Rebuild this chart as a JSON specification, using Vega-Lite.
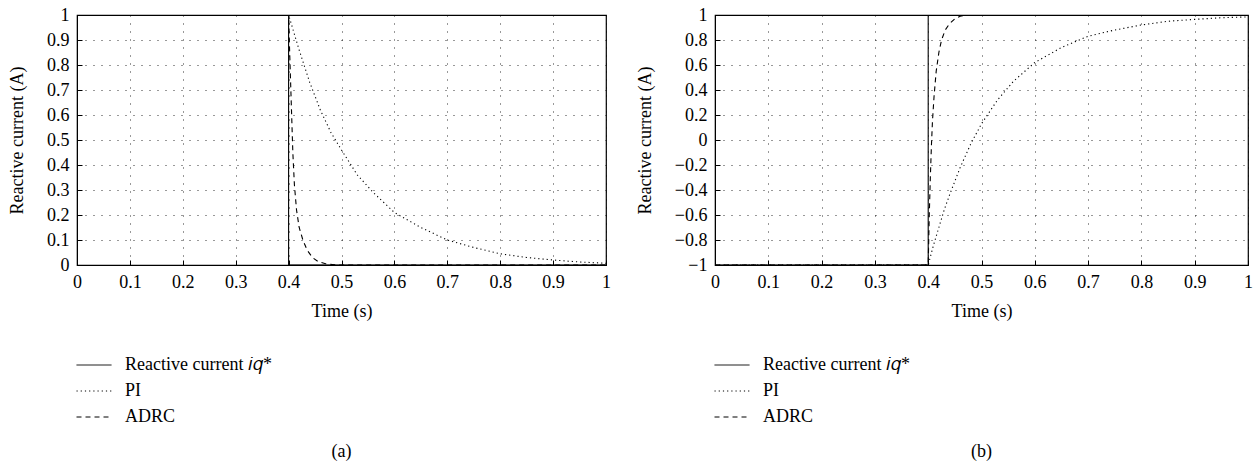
{
  "$schema": "https://vega.github.io/schema/vega-lite/v6.json",
  "padding": {"left": 7, "top": 5, "right": 5, "bottom": 5},
  "spacing": 23,
  "config": {
    "font": "Liberation Serif",
    "view": {"stroke": "#000", "strokeWidth": 1.2},
    "axis": {
      "labelFont": "Liberation Serif", "labelFontSize": 18, "labelColor": "#000",
      "titleFont": "Liberation Serif", "titleFontSize": 18, "titleFontWeight": "normal", "titleColor": "#000",
      "domainColor": "#000", "tickColor": "#000", "tickSize": -5, "labelPadding": 13,
      "gridColor": "#000", "gridDash": [1, 7], "gridOpacity": 0.8, "gridWidth": 1,
      "labelFlush": false
    },
    "legend": {
      "labelFont": "Liberation Serif", "labelFontSize": 18, "labelColor": "#000",
      "symbolType": "stroke", "symbolSize": 1225, "symbolStrokeColor": "#000", "symbolStrokeWidth": 1,
      "rowPadding": 2, "clipHeight": 24, "labelOffset": 13
    },
    "title": {"font": "Liberation Serif", "fontSize": 18, "fontWeight": "normal", "color": "#000"}
  },
  "resolve": {"scale": {"strokeDash": "independent"}, "legend": {"strokeDash": "independent"}},
  "datasets": {
    "a": [
      {"t": 0, "v": 1, "s": "Reactive current 𝑖𝑞*"},
      {"t": 0.4, "v": 1, "s": "Reactive current 𝑖𝑞*"},
      {"t": 0.4, "v": 0, "s": "Reactive current 𝑖𝑞*"},
      {"t": 1, "v": 0, "s": "Reactive current 𝑖𝑞*"},
      {"t": 0, "v": 1, "s": "PI"},
      {"t": 0.4, "v": 1, "s": "PI"},
      {"t": 0.42, "v": 0.86, "s": "PI"},
      {"t": 0.44, "v": 0.73, "s": "PI"},
      {"t": 0.46, "v": 0.62, "s": "PI"},
      {"t": 0.48, "v": 0.53, "s": "PI"},
      {"t": 0.5, "v": 0.46, "s": "PI"},
      {"t": 0.53, "v": 0.36, "s": "PI"},
      {"t": 0.56, "v": 0.29, "s": "PI"},
      {"t": 0.6, "v": 0.21, "s": "PI"},
      {"t": 0.65, "v": 0.15, "s": "PI"},
      {"t": 0.7, "v": 0.1, "s": "PI"},
      {"t": 0.75, "v": 0.07, "s": "PI"},
      {"t": 0.8, "v": 0.045, "s": "PI"},
      {"t": 0.85, "v": 0.03, "s": "PI"},
      {"t": 0.9, "v": 0.02, "s": "PI"},
      {"t": 0.95, "v": 0.012, "s": "PI"},
      {"t": 1, "v": 0.007, "s": "PI"},
      {"t": 0, "v": 1, "s": "ADRC"},
      {"t": 0.4, "v": 1, "s": "ADRC"},
      {"t": 0.402, "v": 0.85, "s": "ADRC"},
      {"t": 0.405, "v": 0.65, "s": "ADRC"},
      {"t": 0.408, "v": 0.45, "s": "ADRC"},
      {"t": 0.411, "v": 0.32, "s": "ADRC"},
      {"t": 0.415, "v": 0.22, "s": "ADRC"},
      {"t": 0.42, "v": 0.15, "s": "ADRC"},
      {"t": 0.427, "v": 0.1, "s": "ADRC"},
      {"t": 0.435, "v": 0.06, "s": "ADRC"},
      {"t": 0.445, "v": 0.03, "s": "ADRC"},
      {"t": 0.455, "v": 0.015, "s": "ADRC"},
      {"t": 0.47, "v": 0.005, "s": "ADRC"},
      {"t": 0.49, "v": 0, "s": "ADRC"},
      {"t": 1, "v": 0, "s": "ADRC"}
    ],
    "b": [
      {"t": 0, "v": -1, "s": "Reactive current 𝑖𝑞*"},
      {"t": 0.4, "v": -1, "s": "Reactive current 𝑖𝑞*"},
      {"t": 0.4, "v": 1, "s": "Reactive current 𝑖𝑞*"},
      {"t": 1, "v": 1, "s": "Reactive current 𝑖𝑞*"},
      {"t": 0, "v": -1, "s": "PI"},
      {"t": 0.4, "v": -1, "s": "PI"},
      {"t": 0.41, "v": -0.84, "s": "PI"},
      {"t": 0.42, "v": -0.7, "s": "PI"},
      {"t": 0.43, "v": -0.56, "s": "PI"},
      {"t": 0.44, "v": -0.44, "s": "PI"},
      {"t": 0.46, "v": -0.22, "s": "PI"},
      {"t": 0.48, "v": -0.03, "s": "PI"},
      {"t": 0.5, "v": 0.13, "s": "PI"},
      {"t": 0.53, "v": 0.32, "s": "PI"},
      {"t": 0.56, "v": 0.47, "s": "PI"},
      {"t": 0.6, "v": 0.62, "s": "PI"},
      {"t": 0.65, "v": 0.74, "s": "PI"},
      {"t": 0.7, "v": 0.83, "s": "PI"},
      {"t": 0.75, "v": 0.88, "s": "PI"},
      {"t": 0.8, "v": 0.92, "s": "PI"},
      {"t": 0.85, "v": 0.95, "s": "PI"},
      {"t": 0.9, "v": 0.965, "s": "PI"},
      {"t": 0.95, "v": 0.978, "s": "PI"},
      {"t": 1, "v": 0.985, "s": "PI"},
      {"t": 0, "v": -1, "s": "ADRC"},
      {"t": 0.4, "v": -1, "s": "ADRC"},
      {"t": 0.402, "v": -0.6, "s": "ADRC"},
      {"t": 0.404, "v": -0.3, "s": "ADRC"},
      {"t": 0.406, "v": -0.05, "s": "ADRC"},
      {"t": 0.408, "v": 0.15, "s": "ADRC"},
      {"t": 0.411, "v": 0.35, "s": "ADRC"},
      {"t": 0.415, "v": 0.55, "s": "ADRC"},
      {"t": 0.42, "v": 0.7, "s": "ADRC"},
      {"t": 0.425, "v": 0.8, "s": "ADRC"},
      {"t": 0.432, "v": 0.88, "s": "ADRC"},
      {"t": 0.44, "v": 0.93, "s": "ADRC"},
      {"t": 0.45, "v": 0.97, "s": "ADRC"},
      {"t": 0.46, "v": 0.99, "s": "ADRC"},
      {"t": 0.47, "v": 1, "s": "ADRC"},
      {"t": 1, "v": 1, "s": "ADRC"}
    ]
  },
  "hconcat": [
    {
      "width": 529, "height": 250,
      "data": {"name": "a"},
      "title": {"text": "(a)", "orient": "bottom", "offset": 14},
      "mark": {"type": "line", "color": "#000", "strokeWidth": 1.1, "clip": true},
      "encoding": {
        "x": {"field": "t", "type": "quantitative", "title": "Time (s)",
              "scale": {"domain": [0, 1], "nice": false},
              "axis": {"values": [0, 0.1, 0.2, 0.3, 0.4, 0.5, 0.6, 0.7, 0.8, 0.9, 1], "format": "~g", "titlePadding": 11}},
        "y": {"field": "v", "type": "quantitative", "title": "Reactive current (A)",
              "scale": {"domain": [0, 1], "nice": false},
              "axis": {"values": [0, 0.1, 0.2, 0.3, 0.4, 0.5, 0.6, 0.7, 0.8, 0.9, 1], "format": "~g", "titlePadding": 20}},
        "detail": {"field": "s"},
        "order": {"value": null},
        "strokeDash": {"field": "s", "type": "nominal",
          "scale": {"domain": ["Reactive current 𝑖𝑞*", "PI", "ADRC"], "range": [[1, 0], [1.2, 3], [5, 4]]},
          "legend": {"title": null, "orient": "none", "legendX": -1, "legendY": 338, "direction": "vertical"}}
      }
    },
    {
      "width": 533, "height": 250,
      "data": {"name": "b"},
      "title": {"text": "(b)", "orient": "bottom", "offset": 14},
      "mark": {"type": "line", "color": "#000", "strokeWidth": 1.1, "clip": true},
      "encoding": {
        "x": {"field": "t", "type": "quantitative", "title": "Time (s)",
              "scale": {"domain": [0, 1], "nice": false},
              "axis": {"values": [0, 0.1, 0.2, 0.3, 0.4, 0.5, 0.6, 0.7, 0.8, 0.9, 1], "format": "~g", "titlePadding": 11}},
        "y": {"field": "v", "type": "quantitative", "title": "Reactive current (A)",
              "scale": {"domain": [-1, 1], "nice": false},
              "axis": {"values": [-1, -0.8, -0.6, -0.4, -0.2, 0, 0.2, 0.4, 0.6, 0.8, 1], "format": "~g", "titlePadding": 20}},
        "detail": {"field": "s"},
        "order": {"value": null},
        "strokeDash": {"field": "s", "type": "nominal",
          "scale": {"domain": ["Reactive current 𝑖𝑞*", "PI", "ADRC"], "range": [[1, 0], [1.2, 3], [5, 4]]},
          "legend": {"title": null, "orient": "none", "legendX": -1, "legendY": 338, "direction": "vertical"}}
      }
    }
  ]
}
